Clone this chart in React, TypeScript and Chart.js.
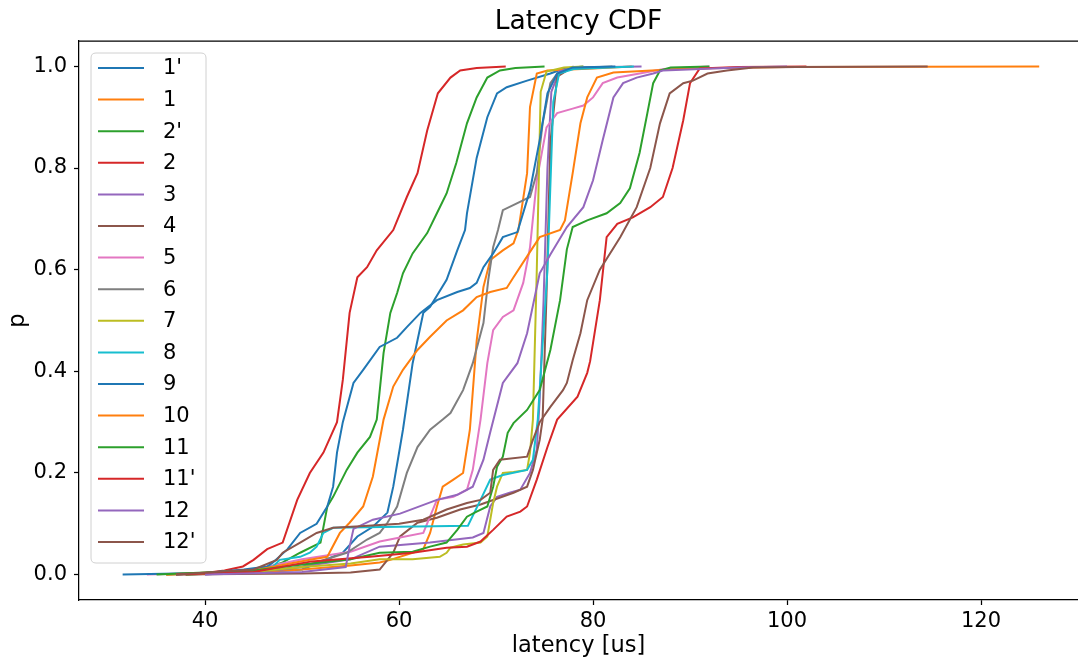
import React, { useEffect, useRef } from "react";
import { Chart, registerables } from "chart.js";

Chart.register(...registerables);

const FONT = "'DejaVu Sans', 'Liberation Sans', sans-serif";

const chartTitle = "Latency CDF";
const xLabel = "latency [us]";
const yLabel = "p";

const xTicks = [40, 60, 80, 100, 120];
const yTicks = [0, 0.2, 0.4, 0.6, 0.8, 1.0];

const seriesNames = ["1'", "1", "2'", "2", "3", "4", "5", "6", "7", "8", "9", "10", "11", "11'", "12", "12'"];
const seriesColors = [
  "#1f77b4", "#ff7f0e", "#2ca02c", "#d62728", "#9467bd", "#8c564b", "#e377c2", "#7f7f7f",
  "#bcbd22", "#17becf", "#1f77b4", "#ff7f0e", "#2ca02c", "#d62728", "#9467bd", "#8c564b",
];

// 1'
const lat_1p = [38, 45, 50, 54.2, 55.7, 57.3, 58.8, 59.4, 60.1, 60.4, 61.4, 62.5, 63.2, 64.9, 66.0, 66.8, 67.0, 68.0, 69.1, 70.1, 71.1, 73.2, 75.6, 77, 79];
const p_1p = [0, 0.004, 0.01, 0.043, 0.075, 0.094, 0.122, 0.173, 0.251, 0.285, 0.416, 0.515, 0.527, 0.58, 0.638, 0.678, 0.711, 0.82, 0.9, 0.947, 0.959, 0.972, 0.986, 0.996, 1.0];
// 1
const lat_1 = [38, 45, 50, 55, 58.0, 59.1, 61.4, 62.5, 63.2, 63.9, 64.5, 65.6, 66.6, 67.3, 68.0, 68.7, 69.4, 70.7, 71.8, 72.3, 73.2, 73.5, 74.2, 75.3, 80, 84];
const p_1 = [0, 0.004, 0.01, 0.018, 0.024, 0.029, 0.043, 0.05, 0.082, 0.134, 0.173, 0.187, 0.2, 0.285, 0.46, 0.566, 0.619, 0.638, 0.652, 0.678, 0.79, 0.92, 0.986, 0.992, 0.996, 1.0];
// 2'
const lat_2p = [38, 42, 46, 48, 49.8, 51.9, 52.6, 53.2, 54.6, 55.7, 57.0, 57.7, 58.4, 59.1, 59.8, 60.4, 61.4, 62.9, 63.9, 64.9, 65.9, 67.0, 68.0, 69.1, 70.4, 72, 75];
const p_2p = [0, 0.003, 0.01, 0.024, 0.043, 0.063, 0.134, 0.153, 0.206, 0.24, 0.271, 0.305, 0.436, 0.515, 0.554, 0.593, 0.632, 0.672, 0.711, 0.75, 0.81, 0.888, 0.939, 0.978, 0.992, 0.997, 1.0];
// 2
const lat_2 = [36, 40, 42, 43.9, 45.0, 46.4, 48.0, 49.5, 50.8, 52.2, 53.6, 54.2, 54.9, 55.7, 56.7, 57.7, 59.4, 60.8, 61.9, 62.9, 64.0, 65.3, 66.3, 68, 71];
const p_2 = [0, 0.003, 0.008, 0.016, 0.029, 0.05, 0.063, 0.147, 0.2, 0.24, 0.3, 0.383, 0.515, 0.585, 0.605, 0.638, 0.678, 0.743, 0.79, 0.874, 0.947, 0.978, 0.992, 0.997, 1.0];
// 3
const lat_3 = [40, 48, 55, 58, 63.2, 67.6, 68.7, 69.4, 70.1, 71.4, 72.5, 73.5, 74.2, 74.5, 74.9, 75.3, 75.7, 76.5, 78, 85];
const p_3 = [0, 0.01, 0.03, 0.055, 0.063, 0.073, 0.082, 0.134, 0.153, 0.161, 0.167, 0.2, 0.246, 0.344, 0.54, 0.8, 0.95, 0.99, 0.998, 1.0];
// 4
const lat_4 = [37, 50, 55, 58.0, 59.4, 60.1, 61.9, 63.9, 66.3, 68.4, 71.8, 73.2, 73.8, 74.5, 74.8, 75.2, 75.6, 76.3, 78];
const p_4 = [0, 0.002, 0.004, 0.01, 0.043, 0.075, 0.102, 0.112, 0.128, 0.138, 0.161, 0.173, 0.206, 0.265, 0.305, 0.55, 0.85, 0.98, 1.0];
// 5
const lat_5 = [34, 40, 45, 50, 55, 58.0, 60.1, 62.5, 63.9, 65.6, 67.0, 67.6, 68.4, 69.1, 69.7, 70.7, 71.8, 72.8, 73.5, 74.2, 75.2, 76.3, 77.9, 79.0, 80.0, 81.0, 82.5, 84.8, 87.3, 92];
const p_5 = [0, 0.003, 0.01, 0.03, 0.045, 0.065, 0.073, 0.082, 0.147, 0.153, 0.167, 0.206, 0.305, 0.416, 0.481, 0.507, 0.52, 0.574, 0.644, 0.776, 0.88, 0.908, 0.917, 0.923, 0.939, 0.967, 0.978, 0.986, 0.995, 1.0];
// 6
const lat_6 = [36, 45, 50, 54.6, 56.7, 58.0, 58.8, 59.8, 60.8, 61.9, 63.2, 64.5, 65.3, 66.6, 67.6, 68.7, 69.2, 69.7, 70.2, 70.7, 72.2, 73.5, 74.2, 74.8, 75.6, 76.3, 78, 82];
const p_6 = [0, 0.005, 0.015, 0.043, 0.069, 0.082, 0.102, 0.134, 0.2, 0.251, 0.285, 0.305, 0.318, 0.363, 0.416, 0.495, 0.58, 0.644, 0.678, 0.717, 0.731, 0.743, 0.79, 0.888, 0.967, 0.986, 0.997, 1.0];
// 7
const lat_7 = [36, 45, 50, 55, 58, 61.4, 64.2, 64.9, 65.3, 66.6, 68.4, 69.1, 69.7, 70.1, 70.7, 71.8, 73.2, 73.5, 73.8, 74.2, 74.6, 75.2, 77, 79];
const p_7 = [0, 0.005, 0.015, 0.022, 0.03, 0.03, 0.035, 0.043, 0.053, 0.059, 0.063, 0.075, 0.141, 0.173, 0.2, 0.202, 0.206, 0.24, 0.305, 0.6, 0.95, 0.99, 0.998, 1.0];
// 8
const lat_8 = [37, 45, 47.0, 47.7, 49.8, 50.8, 51.5, 52.2, 53.2, 60, 67.1, 68.4, 69.4, 70.7, 73.2, 73.8, 74.3, 75.3, 75.9, 76.5, 78, 84.2];
const p_8 = [0, 0.008, 0.016, 0.029, 0.035, 0.043, 0.055, 0.082, 0.092, 0.094, 0.096, 0.147, 0.187, 0.196, 0.206, 0.226, 0.305, 0.6, 0.93, 0.986, 0.995, 1.0];
// 9
const lat_9 = [31.5, 40, 44, 46.4, 47.0, 48.5, 49.8, 51.5, 52.6, 53.2, 53.6, 54.2, 55.3, 56.3, 58.0, 59.8, 60.8, 62.2, 63.9, 66.0, 67.3, 68.0, 68.7, 69.7, 70.7, 72.2, 73.5, 74.5, 75.3, 76.3, 77.9, 82.3];
const p_9 = [0, 0.003, 0.01, 0.016, 0.024, 0.05, 0.082, 0.1, 0.134, 0.173, 0.24, 0.3, 0.377, 0.403, 0.448, 0.466, 0.487, 0.515, 0.54, 0.556, 0.564, 0.574, 0.605, 0.632, 0.664, 0.674, 0.756, 0.855, 0.947, 0.986, 0.998, 1.0];
// 10
const lat_10 = [36, 45, 50.8, 52.6, 53.9, 54.9, 56.3, 57.3, 58.4, 59.4, 60.4, 61.9, 63.2, 64.9, 66.6, 68.0, 69.4, 71.1, 71.8, 73.5, 74.5, 76.6, 77.1, 77.9, 78.7, 79.4, 80.4, 82.1, 90, 100, 126];
const p_10 = [0, 0.008, 0.029, 0.035, 0.082, 0.102, 0.134, 0.193, 0.305, 0.37, 0.403, 0.442, 0.468, 0.5, 0.52, 0.546, 0.556, 0.564, 0.585, 0.635, 0.664, 0.678, 0.697, 0.79, 0.888, 0.939, 0.978, 0.988, 0.996, 0.999, 1.0];
// 11
const lat_11 = [35, 45, 50, 55, 58, 61.4, 63.2, 64.9, 66.0, 67.0, 68.0, 69.1, 69.7, 70.1, 70.7, 71.2, 71.8, 73.2, 74.5, 75.6, 76.6, 77.3, 77.9, 79.4, 81.4, 82.8, 83.8, 84.8, 85.6, 86.2, 86.9, 88, 92];
const p_11 = [0, 0.008, 0.02, 0.03, 0.043, 0.045, 0.055, 0.063, 0.088, 0.114, 0.124, 0.134, 0.173, 0.212, 0.232, 0.279, 0.298, 0.324, 0.363, 0.442, 0.54, 0.64, 0.684, 0.697, 0.711, 0.731, 0.76, 0.83, 0.908, 0.967, 0.992, 0.998, 1.0];
// 11'
const lat_11p = [37, 45, 51, 57, 61.4, 64.9, 67, 68.4, 69.7, 71.1, 72.5, 73.2, 74.2, 75.3, 76.3, 78.4, 79.4, 79.7, 80.7, 81.4, 82.5, 84.1, 85.9, 87.2, 88.2, 89.3, 90.0, 91.0, 95, 102];
const p_11p = [0, 0.005, 0.026, 0.035, 0.043, 0.053, 0.055, 0.065, 0.088, 0.114, 0.124, 0.134, 0.187, 0.251, 0.305, 0.35, 0.397, 0.42, 0.54, 0.664, 0.69, 0.703, 0.723, 0.743, 0.8, 0.894, 0.967, 0.996, 0.999, 1.0];
// 12
const lat_12 = [40, 50, 54.5, 54.9, 55.3, 57.3, 60.1, 63.9, 66.0, 67.6, 68.7, 69.4, 70.7, 72.2, 73.2, 74.5, 75.6, 77.3, 79.0, 80.0, 81.0, 82.1, 83.1, 84.5, 86.2, 87.2, 95, 100];
const p_12 = [0, 0.005, 0.015, 0.055, 0.09, 0.108, 0.12, 0.147, 0.157, 0.173, 0.226, 0.28, 0.377, 0.416, 0.475, 0.593, 0.63, 0.684, 0.723, 0.776, 0.855, 0.939, 0.967, 0.978, 0.986, 0.992, 0.998, 1.0];
// 12'
const lat_12p = [37, 45, 47.4, 48.0, 49.8, 51.5, 53.2, 56, 60, 62.5, 64.9, 67.0, 68.4, 69.4, 69.7, 70.4, 73.2, 73.8, 74.5, 75.6, 76.9, 77.3, 77.9, 78.7, 79.4, 80.7, 82.8, 84.5, 85.9, 86.9, 87.9, 89.3, 90.3, 91.8, 93.8, 96.5, 101, 114.5];
const p_12p = [0, 0.01, 0.029, 0.043, 0.063, 0.082, 0.092, 0.095, 0.1, 0.108, 0.128, 0.141, 0.147, 0.161, 0.206, 0.226, 0.232, 0.265, 0.3, 0.33, 0.363, 0.377, 0.422, 0.475, 0.54, 0.6, 0.664, 0.723, 0.8, 0.888, 0.947, 0.967, 0.972, 0.986, 0.992, 0.998, 0.999, 1.0];

const seriesLat = [lat_1p, lat_1, lat_2p, lat_2, lat_3, lat_4, lat_5, lat_6, lat_7, lat_8, lat_9, lat_10, lat_11, lat_11p, lat_12, lat_12p];
const seriesP = [p_1p, p_1, p_2p, p_2, p_3, p_4, p_5, p_6, p_7, p_8, p_9, p_10, p_11, p_11p, p_12, p_12p];

const decorPlugin = {
  id: "decor",
  afterDraw(chart: any) {
    const { ctx, chartArea } = chart;
    ctx.save();
    // top spine
    ctx.strokeStyle = "#000";
    ctx.lineWidth = 1.25;
    ctx.beginPath();
    ctx.moveTo(chartArea.left, chartArea.top);
    ctx.lineTo(chartArea.right, chartArea.top);
    ctx.stroke();

    // title
    ctx.fillStyle = "#000";
    ctx.font = `26.5px ${FONT}`;
    ctx.textAlign = "center";
    ctx.textBaseline = "middle";
    ctx.fillText(chartTitle, (chartArea.left + chartArea.right) / 2, 22);

    // legend
    const bx = chartArea.left + 12;
    const by = chartArea.top + 12;
    const bw = 115;
    const rowH = 31.6;
    const bh = 510;
    const r = 5;
    ctx.beginPath();
    ctx.moveTo(bx + r, by);
    ctx.lineTo(bx + bw - r, by);
    ctx.quadraticCurveTo(bx + bw, by, bx + bw, by + r);
    ctx.lineTo(bx + bw, by + bh - r);
    ctx.quadraticCurveTo(bx + bw, by + bh, bx + bw - r, by + bh);
    ctx.lineTo(bx + r, by + bh);
    ctx.quadraticCurveTo(bx, by + bh, bx, by + bh - r);
    ctx.lineTo(bx, by + r);
    ctx.quadraticCurveTo(bx, by, bx + r, by);
    ctx.closePath();
    ctx.fillStyle = "rgba(255,255,255,0.8)";
    ctx.fill();
    ctx.strokeStyle = "#d0d0d0";
    ctx.lineWidth = 1;
    ctx.stroke();

    ctx.font = `21px ${FONT}`;
    ctx.textAlign = "left";
    ctx.textBaseline = "middle";
    chart.data.datasets.forEach((ds: any, i: number) => {
      const cy = by + 15 + i * rowH;
      ctx.strokeStyle = ds.borderColor;
      ctx.lineWidth = 2;
      ctx.beginPath();
      ctx.moveTo(bx + 7, cy);
      ctx.lineTo(bx + 53, cy);
      ctx.stroke();
      ctx.fillStyle = "#000";
      ctx.fillText(ds.label, bx + 72, cy + 1);
    });
    ctx.restore();
  },
};

export default function App() {
  const ref = useRef<HTMLCanvasElement | null>(null);

  useEffect(() => {
    if (!ref.current) return;
    const datasets = seriesNames.map((name, i) => ({
      label: name,
      data: seriesLat[i].map((x, k) => ({ x, y: seriesP[i][k] })),
      borderColor: seriesColors[i],
      backgroundColor: seriesColors[i],
      borderWidth: 2,
      pointRadius: 0,
      fill: false,
      tension: 0,
      order: -i,
    }));

    const chart = new Chart(ref.current, {
      type: "line",
      data: { datasets },
      options: {
        animation: false,
        responsive: false,
        events: [],
        layout: { padding: { top: 41, left: 0, right: 0, bottom: 0 } },
        plugins: {
          legend: { display: false },
          tooltip: { enabled: false },
          title: { display: false },
        },
        scales: {
          x: {
            type: "linear",
            min: 27,
            max: 130,
            afterBuildTicks: (scale: any) => {
              scale.ticks = xTicks.map((v) => ({ value: v }));
            },
            afterFit: (scale: any) => {
              scale.height = 61;
            },
            grid: { drawOnChartArea: false, drawTicks: true, tickLength: 5, tickColor: "#000", tickWidth: 1.25 },
            border: { display: true, color: "#000", width: 1.25 },
            ticks: {
              color: "#000",
              font: { family: FONT, size: 21 },
              padding: 4,
              maxRotation: 0,
              autoSkip: false,
              callback: (v: any) => String(v),
            },
            title: {
              display: true,
              text: xLabel,
              color: "#000",
              font: { family: FONT, size: 22.5 },
              padding: { top: 0, bottom: 1 },
            },
          },
          y: {
            type: "linear",
            min: -0.05,
            max: 1.05,
            afterBuildTicks: (scale: any) => {
              scale.ticks = yTicks.map((v) => ({ value: v }));
            },
            afterFit: (scale: any) => {
              scale.width = 79;
            },
            grid: { drawOnChartArea: false, drawTicks: true, tickLength: 5, tickColor: "#000", tickWidth: 1.25 },
            border: { display: true, color: "#000", width: 1.25 },
            ticks: {
              color: "#000",
              font: { family: FONT, size: 21 },
              padding: 7,
              autoSkip: false,
              callback: (v: any) => Number(v).toFixed(1),
            },
            title: {
              display: true,
              text: yLabel,
              color: "#000",
              font: { family: FONT, size: 22.5 },
              padding: { top: 5, bottom: 0 },
            },
          },
        },
      },
      plugins: [decorPlugin],
    } as any);

    return () => chart.destroy();
  }, []);

  return (
    <div style={{ position: "absolute", left: 0, top: 0, width: 1078, height: 661, background: "#fff" }}>
      <canvas ref={ref} width={1078} height={661} style={{ display: "block" }} />
    </div>
  );
}
